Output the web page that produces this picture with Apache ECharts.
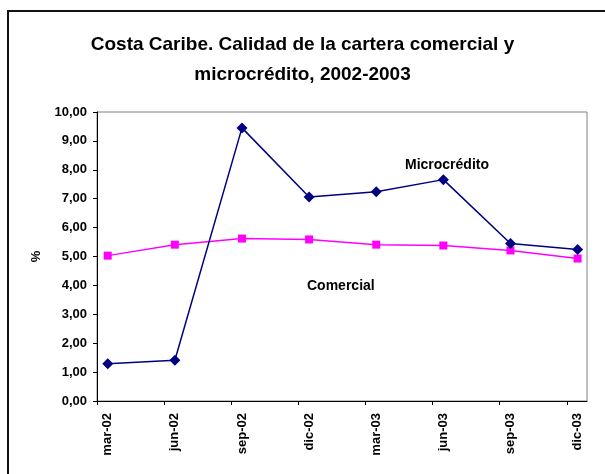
<!DOCTYPE html>
<html>
<head>
<meta charset="utf-8">
<script src="https://cdn.jsdelivr.net/npm/echarts@6/dist/echarts.min.js"></script>
<style>
  html, body { margin: 0; padding: 0; background: #fff; }
  #chart { width: 605px; height: 474px; }
</style>
</head>
<body>
<div id="chart"></div>
<script>
// datos (%)
const categories = ['mar-02', 'jun-02', 'sep-02', 'dic-02', 'mar-03', 'jun-03', 'sep-03', 'dic-03']
const microcredito = [1.29, 1.41, 9.45, 7.06, 7.24, 7.66, 5.45, 5.24]
const comercial = [5.03, 5.41, 5.62, 5.59, 5.41, 5.38, 5.21, 4.93]
const yTicks = [0, 1, 2, 3, 4, 5, 6, 7, 8, 9, 10]

const FONT = "'Liberation Sans', Arial, sans-serif"
const labelStyle = { color: '#000', fontSize: 13, fontWeight: 'bold', fontFamily: FONT }

// las marcas del eje x de Excel caen un poco a la izquierda de cada punto
const tickShift = 0.16
const xIdx = categories.map((c, i) => i)

const chart = echarts.init(document.getElementById('chart'))

chart.setOption({
  animation: false,
  backgroundColor: '#fff',
  title: {
    text: 'Costa Caribe. Calidad de la cartera comercial y\nmicrocrédito, 2002-2003',
    left: 'center',
    top: 25,
    textStyle: { color: '#000', fontSize: 19, fontWeight: 'bold', fontFamily: FONT, lineHeight: 30, align: 'center' }
  },
  grid: {
    left: 97, right: 18, top: 112, bottom: 73,
    show: true, borderColor: '#808080', borderWidth: 1
  },
  xAxis: {
    type: 'value',
    min: -tickShift,
    max: 7.14,
    axisLine: { show: true, onZero: false, lineStyle: { color: '#000', width: 1 } },
    axisTick: { show: true, length: 4, inside: false, customValues: xIdx.map(i => i - tickShift), lineStyle: { color: '#000' } },
    axisLabel: {
      ...labelStyle,
      rotate: 90,
      margin: 12,
      customValues: xIdx,
      formatter: v => categories[Math.round(v)] || ''
    },
    splitLine: { show: false }
  },
  yAxis: {
    type: 'value',
    min: yTicks[0],
    max: yTicks[yTicks.length - 1],
    interval: 1,
    name: '%',
    nameLocation: 'middle',
    nameRotate: 90,
    nameGap: 54,
    nameTextStyle: { ...labelStyle },
    axisLine: { show: true, onZero: false, lineStyle: { color: '#000', width: 1 } },
    axisTick: { show: true, length: 4, lineStyle: { color: '#000' } },
    axisLabel: { ...labelStyle, margin: 10, formatter: v => v.toFixed(2).replace('.', ',') },
    splitLine: { show: false }
  },
  series: [
    {
      name: 'Microcrédito',
      type: 'line',
      data: microcredito.map((v, i) => [xIdx[i], v]),
      symbol: 'diamond',
      symbolSize: 11,
      itemStyle: { color: '#000080' },
      lineStyle: { color: '#000080', width: 1.5 },
      z: 3
    },
    {
      name: 'Comercial',
      type: 'line',
      data: comercial.map((v, i) => [xIdx[i], v]),
      symbol: 'rect',
      symbolSize: 8,
      itemStyle: { color: '#FF00FF' },
      lineStyle: { color: '#FF00FF', width: 1.5 },
      z: 2
    }
  ],
  graphic: [
    {
      type: 'rect',
      shape: { x: 8, y: 11, width: 700, height: 600 },
      style: { fill: 'none', stroke: '#111', lineWidth: 2 },
      silent: true
    },
    {
      type: 'text', left: 405, top: 158,
      style: { text: 'Microcrédito', fill: '#000', font: `bold 14px ${FONT}` }
    },
    {
      type: 'text', left: 307, top: 279,
      style: { text: 'Comercial', fill: '#000', font: `bold 14px ${FONT}` }
    }
  ]
})
</script>
</body>
</html>
